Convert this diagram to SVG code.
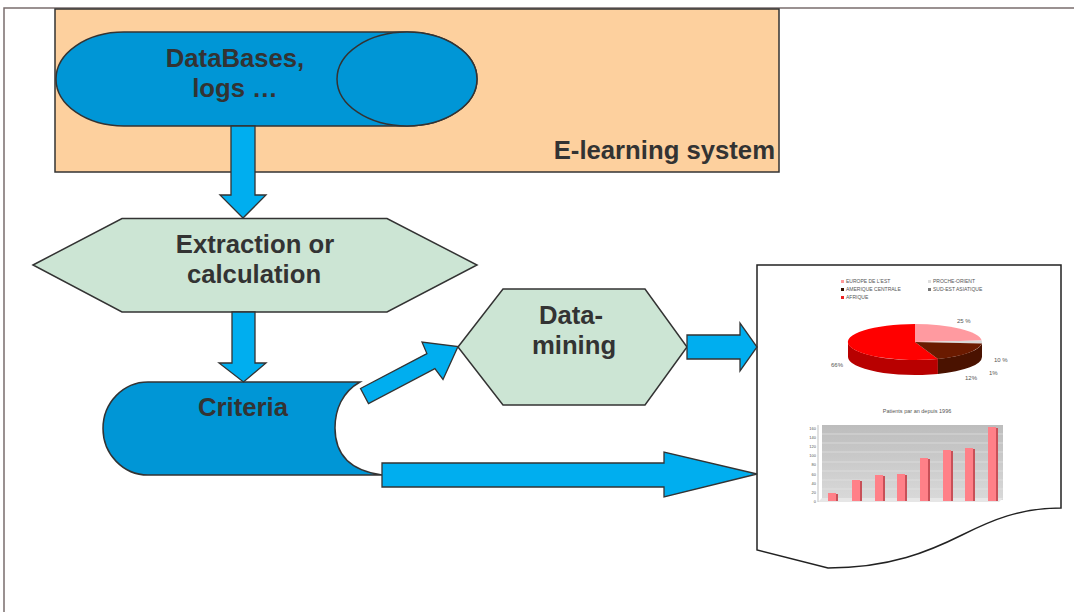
<svg xmlns="http://www.w3.org/2000/svg" width="1074" height="612" viewBox="0 0 1074 612">
<defs>
<style>
.lbl{font-family:"Liberation Sans",Arial,sans-serif;font-weight:bold;font-size:25.7px;fill:#333333;text-anchor:middle}
.blue{fill:#0096D6;stroke:#333333;stroke-width:1.5}
.hex{fill:#CCE5D4;stroke:#333333;stroke-width:1.5}
.arr{fill:#00AEEF;stroke:#333333;stroke-width:1.3;stroke-linejoin:miter}
.tiny{font-family:"Liberation Sans",Arial,sans-serif;font-size:5px;fill:#555555}
.pct{font-family:"Liberation Sans",Arial,sans-serif;font-size:6px;fill:#555555}
.bar{fill:#FF8088}
.bside{fill:#C85058}
</style>
<linearGradient id="wall" x1="0" y1="0" x2="0" y2="1">
<stop offset="0" stop-color="#BDBDBD"/>
<stop offset="1" stop-color="#D9D9D9"/>
</linearGradient>
</defs>
<rect width="1074" height="612" fill="#FFFFFF"/>
<g id="frame" fill="none" stroke="#7A6E6E" stroke-width="1.5">
<path d="M4,612 V8 H1074"/>
</g>
<g id="elearning-system">
<rect x="55" y="9" width="724" height="163" fill="#FDD09E" stroke="#333333" stroke-width="1.5"/>
<text class="lbl" x="775" y="159" style="text-anchor:end">E-learning system</text>
</g>
<g id="databases">
<path class="blue" d="M124,32 L407,32 A70,47 0 0 1 407,126 L124,126 A68,47 0 0 1 124,32 Z"/>
<ellipse class="blue" cx="407" cy="79" rx="70" ry="47"/>
<text class="lbl" x="235" y="67">DataBases,</text>
<text class="lbl" x="235" y="97">logs …</text>
</g>
<g id="extraction">
<polygon class="hex" points="33,265 122,218.5 387,218.5 477,265 387,312 122,312"/>
<text class="lbl" x="255" y="253">Extraction or</text>
<text class="lbl" x="254" y="283">calculation</text>
</g>
<g id="criteria">
<path class="blue" d="M148,382 L360,382 C342,392 335,410 335,428 C335,450 345,470 382,475 L148,475 A45,46.5 0 0 1 148,382 Z"/>
<text class="lbl" x="243" y="416">Criteria</text>
</g>
<g id="datamining">
<polygon class="hex" points="458,347 503,289 645,289 687,347 645,405 503,405"/>
<text class="lbl" x="571" y="324">Data-</text>
<text class="lbl" x="574" y="354">mining</text>
</g>
<g id="report">
<path d="M757,265 H1061 V508 C1020,508 992,520 962,535 C930,551 890,568 828,568 L757,550 Z" fill="#FFFFFF" stroke="#222222" stroke-width="1.5"/>
<g id="legend">
<rect x="841" y="280" width="3" height="3" fill="#FF9999"/>
<text class="tiny" x="846" y="283">EUROPE DE L'EST</text>
<rect x="928" y="280" width="3" height="3" fill="#DDDDDD"/>
<text class="tiny" x="933" y="283">PROCHE-ORIENT</text>
<rect x="841" y="288" width="3" height="3" fill="#331100"/>
<text class="tiny" x="846" y="291">AMERIQUE CENTRALE</text>
<rect x="928" y="288" width="3" height="3" fill="#777777"/>
<text class="tiny" x="933" y="291">SUD-EST ASIATIQUE</text>
<rect x="841" y="296" width="3" height="3" fill="#EE2222"/>
<text class="tiny" x="846" y="299">AFRIQUE</text>
</g>
<g id="pie">
<path d="M937.9,358.9 A67,18 0 0 1 848,342 L848,357 A67,18 0 0 0 937.9,373.9 Z" fill="#B80000"/>
<path d="M982,342 A67,18 0 0 1 937.9,358.9 L937.9,373.9 A67,18 0 0 0 982,357 Z" fill="#4A1200"/>
<path d="M915,342 L937.9,358.9 A67,18 0 1 1 915,324 Z" fill="#FF0000"/>
<path d="M915,342 L915,324 A67,18 0 0 1 981.7,340.4 Z" fill="#FF9AA0"/>
<path d="M915,342 L981.7,340.4 A67,18 0 0 1 981.7,343.6 Z" fill="#D8D8D8"/>
<path d="M915,342 L981.7,343.6 A67,18 0 0 1 937.9,358.9 Z" fill="#6A1A00"/>
<text class="pct" x="957" y="323">25 %</text>
<text class="pct" x="831" y="367">66%</text>
<text class="pct" x="994" y="362">10 %</text>
<text class="pct" x="989" y="375">1%</text>
<text class="pct" x="965" y="380">12%</text>
</g>
<g id="bars">
<text class="tiny" x="917" y="413" style="text-anchor:middle;font-size:5.5px">Patients par an depuis 1996</text>
<path d="M822,425 H1003 V500 H822 Z" fill="url(#wall)"/>
<path d="M818,502 L822,498 H1003 L999,502 Z" fill="#E6E6E6"/>
<g stroke="#E8E8E8" stroke-width="0.6">
<line x1="822" y1="434" x2="1003" y2="434"/>
<line x1="822" y1="443" x2="1003" y2="443"/>
<line x1="822" y1="452" x2="1003" y2="452"/>
<line x1="822" y1="462" x2="1003" y2="462"/>
<line x1="822" y1="471" x2="1003" y2="471"/>
<line x1="822" y1="480" x2="1003" y2="480"/>
<line x1="822" y1="489" x2="1003" y2="489"/>
</g>
<line x1="818" y1="425" x2="818" y2="502" stroke="#999999" stroke-width="0.6"/>
<g class="tiny" style="font-size:4px;text-anchor:end">
<text x="816" y="503">0</text>
<text x="816" y="494">20</text>
<text x="816" y="485">40</text>
<text x="816" y="476">60</text>
<text x="816" y="466">80</text>
<text x="816" y="457">100</text>
<text x="816" y="448">120</text>
<text x="816" y="439">140</text>
<text x="816" y="430">160</text>
</g>
<rect class="bar" x="828" y="493" width="8" height="8"/><rect class="bside" x="836" y="494" width="2" height="7"/>
<rect class="bar" x="852" y="480" width="8" height="21"/><rect class="bside" x="860" y="481" width="2" height="20"/>
<rect class="bar" x="875" y="475" width="8" height="26"/><rect class="bside" x="883" y="476" width="2" height="25"/>
<rect class="bar" x="897" y="474" width="8" height="27"/><rect class="bside" x="905" y="475" width="2" height="26"/>
<rect class="bar" x="920" y="458" width="8" height="43"/><rect class="bside" x="928" y="459" width="2" height="42"/>
<rect class="bar" x="943" y="450" width="8" height="51"/><rect class="bside" x="951" y="451" width="2" height="50"/>
<rect class="bar" x="965" y="448" width="8" height="53"/><rect class="bside" x="973" y="449" width="2" height="52"/>
<rect class="bar" x="988" y="427" width="8" height="74"/><rect class="bside" x="996" y="428" width="2" height="73"/>
</g>
</g>
<g id="connectors">
<polygon class="arr" points="231,126 255,126 255,195 266,195 243,218 220,195 231,195"/>
<polygon class="arr" points="232,312 255,312 255,363 266,363 243.5,382 219,363 232,363"/>
<polygon class="arr" points="360.5,388.5 426.9,353.6 422,342 458,346.5 443,379.5 434.9,368.6 368.5,403.5"/>
<polygon class="arr" points="687,335 740,335 740,323 757,347 740,371 740,359 687,359"/>
<polygon class="arr" points="382,463 664,463 664,452 757,474 664,497 664,487 382,487"/>
</g>
</svg>
